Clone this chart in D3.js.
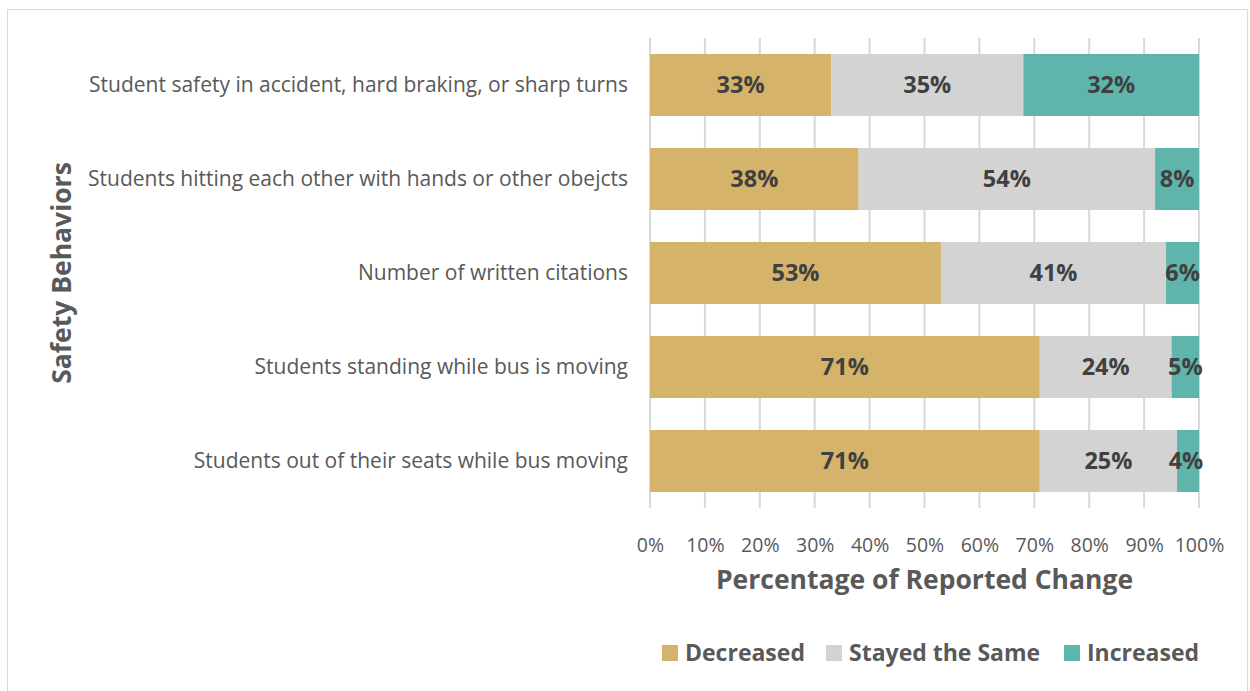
<!DOCTYPE html>
<html>
<head>
<meta charset="utf-8">
<script src="https://cdn.jsdelivr.net/npm/d3@7"></script>
<style>
  body { margin: 0; background: #fff; }
  text { font-family: "Open Sans", Lato, sans-serif; }
</style>
</head>
<body>
<div id="chart"></div>
<script>
// data
const categories = [
    "Student safety in accident, hard braking, or sharp turns",
    "Students hitting each other with hands or other obejcts",
    "Number of written citations",
    "Students standing while bus is moving",
    "Students out of their seats while bus moving"
]
const decreased = [33, 38, 53, 71, 71]
const stayedSame = [35, 54, 41, 24, 25]
const increased = [32, 8, 6, 5, 4]
const seriesNames = ["Decreased", "Stayed the Same", "Increased"]
const seriesColors = ["#D5B36A", "#D3D3D3", "#5FB5AC"]
const xTicks = [0, 10, 20, 30, 40, 50, 60, 70, 80, 90, 100]

var width = 1250
var height = 691
var margin = {top: 38, left: 650, right: 51, bottom: 183}
var font = "'Open Sans', sans-serif"

var svg = d3.select("#chart").append("svg")
    .attr("width", width)
    .attr("height", height)

// outer frame
svg.append("rect")
    .attr("x", 7.5).attr("y", 9.5)
    .attr("width", width - 10).attr("height", height)
    .attr("fill", "none").attr("stroke", "#d9d9d9")

var x = d3.scaleLinear().domain([0, 100]).range([margin.left, width - margin.right])
var y = d3.scaleBand().domain(categories).range([margin.top, height - margin.bottom]).paddingInner(0.34).paddingOuter(0.17)

// gridlines
svg.append("g").selectAll("line")
    .data(xTicks).enter().append("line")
    .attr("x1", d => x(d)).attr("x2", d => x(d))
    .attr("y1", margin.top).attr("y2", height - margin.bottom)
    .attr("stroke", "#d9d9d9").attr("stroke-width", 2)

// stack the series
var rows = categories.map((c, i) => ({cat: c, Decreased: decreased[i], "Stayed the Same": stayedSame[i], Increased: increased[i]}))
var stacked = d3.stack().keys(seriesNames)(rows)

var layers = svg.append("g").selectAll("g")
    .data(stacked).enter().append("g")
    .attr("fill", (d, i) => seriesColors[i])

layers.selectAll("rect")
    .data(d => d).enter().append("rect")
    .attr("x", d => x(d[0]))
    .attr("width", d => x(d[1]) - x(d[0]))
    .attr("y", d => y(d.data.cat))
    .attr("height", y.bandwidth())

layers.selectAll("text")
    .data(d => d).enter().append("text")
    .attr("x", d => Math.min((x(d[0]) + x(d[1])) / 2, x(100) - 13))
    .attr("y", d => y(d.data.cat) + y.bandwidth() / 2)
    .attr("dy", "0.36em")
    .attr("text-anchor", "middle")
    .attr("font-size", 23.5).attr("font-weight", "bold")
    .attr("fill", "#404040")
    .text(d => (d[1] - d[0]) + "%")

// x axis tick labels
var xAxis = svg.append("g")
    .attr("transform", "translate(0," + (height - margin.bottom) + ")")
    .call(d3.axisBottom(x).tickValues(xTicks).tickFormat(d => d + "%").tickSize(0).tickPadding(30))
xAxis.select(".domain").remove()
xAxis.selectAll("text").attr("font-size", 19.5).attr("fill", "#595959").style("font-family", font)

// y axis category labels
var yAxis = svg.append("g")
    .attr("transform", "translate(" + (margin.left - 22) + ",0)")
    .call(d3.axisLeft(y).tickSize(0).tickPadding(0))
yAxis.select(".domain").remove()
yAxis.selectAll("text").attr("font-size", 21).attr("fill", "#595959").style("font-family", font)

// axis titles
svg.append("text")
    .attr("x", (x(0) + x(100)) / 2).attr("y", 589)
    .attr("text-anchor", "middle")
    .attr("font-size", 26.5).attr("font-weight", "bold").attr("fill", "#595959")
    .text("Percentage of Reported Change")

svg.append("text")
    .attr("transform", "translate(71," + ((margin.top + height - margin.bottom) / 2) + ") rotate(-90)")
    .attr("text-anchor", "middle")
    .attr("font-size", 26.5).attr("font-weight", "bold").attr("fill", "#595959")
    .text("Safety Behaviors")

// legend
var legendX = [662, 826, 1064]
var legend = svg.append("g").selectAll("g")
    .data(seriesNames).enter().append("g")
    .attr("transform", (d, i) => "translate(" + legendX[i] + ",645)")
legend.append("rect")
    .attr("width", 16).attr("height", 16)
    .attr("fill", (d, i) => seriesColors[i])
legend.append("text")
    .attr("x", 23).attr("y", 8).attr("dy", "0.36em")
    .attr("font-size", 23).attr("font-weight", "bold").attr("fill", "#595959")
    .text(d => d)
</script>
</body>
</html>
